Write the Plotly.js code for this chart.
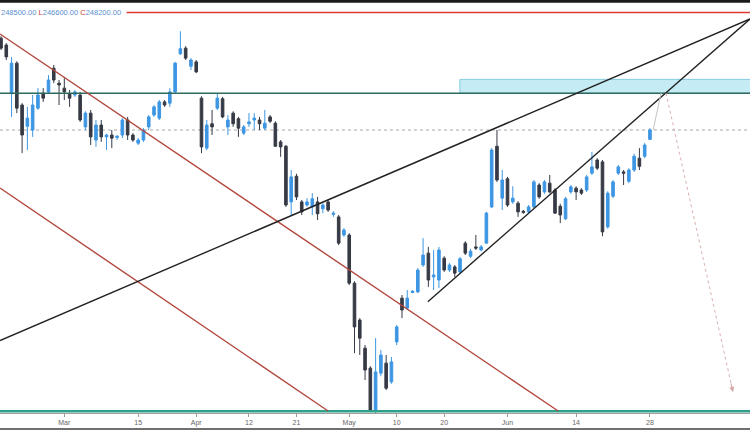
<!DOCTYPE html>
<html><head><meta charset="utf-8">
<script src="https://cdn.plot.ly/plotly-3.0.1.min.js"></script>
<style>html,body{margin:0;padding:0;background:#fff}#chart{width:750px;height:430px}</style>
</head><body><div id="chart"></div>
<script>
// Daily OHLC (candle index 0..123), last candle = Jun 28
const open  = [262900,261800,254100,258900,252200,248800,248200,251700,254100,254300,258100,255700,254900,254000,253800,253800,248700,250900,246600,249000,247100,247400,247000,247400,249800,247400,246100,246600,248700,250600,250100,252700,252500,254300,260400,261300,258400,259100,253300,245300,249200,251700,253200,248700,250900,250000,247700,249200,249800,249800,248500,250300,249300,246300,245600,236700,240800,236700,236200,235900,236700,235600,236700,234700,234300,231400,231400,223700,217800,213300,210100,203400,209300,210900,207900,214300,221300,219700,222200,222300,226600,228500,224700,224200,227700,225800,226300,225500,230100,228000,229500,229000,230100,235900,245600,237300,240400,236700,236500,235200,235100,235900,239400,238300,239700,238600,236000,234000,238300,238900,238600,238600,241300,243400,243100,232700,237600,241300,241500,240000,241800,243700,244000,246700];
const high  = [263200,262100,259900,259200,252500,251900,253800,254900,254900,257000,258600,256200,256500,254600,254600,254300,251200,251400,249800,249800,247600,248200,247400,250100,250300,247700,246900,248500,250600,252200,253000,253000,254900,259100,264000,261600,259700,259400,253600,249800,251400,254100,253500,250600,251200,250300,249000,250900,250900,250300,251400,250600,249600,246600,245800,241800,241200,237000,237300,238100,237500,236500,237000,235200,234600,232500,231700,224000,218100,213800,210400,214900,213000,212200,211900,217000,221800,222600,222600,226100,230900,229500,229000,229500,228000,226900,226600,227900,230400,229200,231400,229800,235100,245300,248200,241800,240700,239200,236800,235400,236200,240200,239700,240200,241000,238900,236400,237500,239400,239200,238900,241000,244700,243700,243400,238400,240200,242600,241800,242100,244400,245300,246100,248500];
const low   = [261000,259400,250300,250900,244500,245000,247100,251400,252700,254100,255700,252200,253000,251900,253500,249500,248200,245800,245500,246300,245000,245300,246600,246900,246600,246300,245800,246300,248200,250300,249800,251900,251900,254100,260200,259400,257800,257300,244500,245000,247400,251400,250100,247400,248700,247100,247400,248700,248200,248200,248200,249300,245500,243900,235900,234600,237000,234600,235900,234600,233800,234900,235100,234300,229800,231100,223400,212500,212200,208200,203100,202800,208800,206600,207600,213800,218100,219400,222100,222100,226300,223100,222600,222900,225500,225500,224700,225200,228200,227700,229000,228800,230000,235700,239900,235400,235900,236400,234300,234800,234900,235700,237200,238000,238100,234800,233300,233800,238000,237000,237800,238300,241000,241800,231200,232400,237300,241000,239400,239700,241500,241800,243700,246600];
const close = [261300,259900,258900,251700,247400,250100,252200,253800,253300,256200,256200,255400,254300,253300,254300,249800,250900,247100,249000,247100,247400,246900,247200,249800,247400,246600,246600,248200,250300,251900,252700,252200,254300,258900,261200,259700,259400,257500,245500,249000,248700,253300,250300,249800,249200,248500,248700,249500,250100,249200,249300,249600,245600,245500,236200,240700,237500,235100,236700,237200,234800,236200,235400,234900,230100,232200,223700,216700,214900,209800,203400,209500,212200,206900,211100,216700,219400,221300,222400,225800,228200,224200,225000,229000,225800,226600,225300,227600,228500,228800,229300,229500,234900,245000,240200,240200,236200,237300,235100,235000,235900,239900,237500,239900,238300,234900,234600,237200,239100,238300,238100,240700,242300,242100,231900,238100,239900,242300,241300,241800,244000,242400,245800,248200];

// x-axis tick labels and the candle index they sit on
const tickLabels = ['Mar','15','Apr','12','21','May','10','20','Jun','14','28'];
const tickIndex  = [12,26,37,47,56,66,75,84,96,109,123];

// Drawn price levels
const levelRed = 267000, levelGreen = 254100, zoneTop = 256300, lastPrice = 248200, levelBottom = 203200;
// Trend / channel lines: [x (candle index), price]
const blackA_x = [-0.19, 141.96], blackA_y = [214520, 265960];
const blackB_x = [80.9, 141.96], blackB_y = [220730, 265960];
const redA_x = [-0.19, 105.6], redA_y = [263560, 203240];
const redB_x = [-0.19, 62.0], redB_y = [238920, 203240];
const projUp_x = [123.6, 125.1], projUp_y = [248200, 254100];
const projDown_x = [126.04, 138.74], projDown_y = [254100, 206280];

const idx = open.map((_, i) => i);
const XR = [-0.19, 141.96];

const traces = [
  {type:'candlestick', x: idx, open, high, low, close,
   increasing:{line:{color:'#3d96e3', width:1}, fillcolor:'#3d96e3'},
   decreasing:{line:{color:'#363a45', width:1}, fillcolor:'#363a45'},
   whiskerwidth:0, hoverinfo:'skip', showlegend:false},
  {type:'scatter', mode:'lines', x:[XR[0], XR[1]], y:[levelGreen, levelGreen], line:{color:'#2f6a5f', width:1.5}, hoverinfo:'skip', showlegend:false},
  {type:'scatter', mode:'lines', x:[XR[0], XR[1]], y:[levelBottom, levelBottom], line:{color:'#30a08b', width:2.5}, hoverinfo:'skip', showlegend:false},
  {type:'scatter', mode:'lines', x:[23.8, XR[1]], y:[levelRed, levelRed], line:{color:'#e03a30', width:1.6}, hoverinfo:'skip', showlegend:false},
  {type:'scatter', mode:'lines', x:redA_x, y:redA_y, line:{color:'#b2463c', width:1.4}, hoverinfo:'skip', showlegend:false},
  {type:'scatter', mode:'lines', x:redB_x, y:redB_y, line:{color:'#b2463c', width:1.4}, hoverinfo:'skip', showlegend:false},
  {type:'scatter', mode:'lines', x:blackA_x, y:blackA_y, line:{color:'#222222', width:1.4}, hoverinfo:'skip', showlegend:false},
  {type:'scatter', mode:'lines', x:blackB_x, y:blackB_y, line:{color:'#222222', width:1.4}, hoverinfo:'skip', showlegend:false},
  {type:'scatter', mode:'lines', x:projUp_x, y:projUp_y, line:{color:'#c4c4c4', width:1}, hoverinfo:'skip', showlegend:false},
  {type:'scatter', mode:'lines', x:projDown_x, y:projDown_y, line:{color:'#dbb0b0', width:1, dash:'dot'}, hoverinfo:'skip', showlegend:false}
];

const layout = {
  width:750, height:430,
  margin:{l:0, r:0, t:3, b:17},
  paper_bgcolor:'#ffffff', plot_bgcolor:'#ffffff',
  showlegend:false,
  font:{family:'Liberation Sans, Arial, sans-serif', size:7, color:'#6a6a6a'},
  xaxis:{range:XR, rangeslider:{visible:false}, showgrid:false, zeroline:false,
         tickmode:'array', tickvals:tickIndex, ticktext:tickLabels,
         ticks:'outside', ticklen:3, tickcolor:'#9a9a9a', showline:true, linecolor:'#a0a0a0', linewidth:1,
         tickfont:{size:7, color:'#666666'}, fixedrange:true},
  yaxis:{range:[202920, 268520], showgrid:false, zeroline:false, showticklabels:false, ticks:'', showline:false, fixedrange:true},
  shapes:[
    {type:'rect', xref:'x', yref:'y', x0:86.97, x1:150, y0:levelGreen, y1:zoneTop, fillcolor:'#c5ebf5', line:{color:'#84cde0', width:1}, layer:'below'},
    {type:'line', xref:'x', yref:'y', x0:XR[0], x1:XR[1], y0:lastPrice, y1:lastPrice, line:{color:'#a8a8a8', width:1, dash:'dot'}, layer:'below'},
    {type:'rect', xref:'paper', yref:'paper', x0:0, x1:1, y0:1.0005, y1:1.02, fillcolor:'#1b1b1b', line:{width:0}},
    {type:'rect', xref:'paper', yref:'paper', x0:0, x1:1, y0:-0.0366, y1:-0.06, fillcolor:'#707070', line:{width:0}}
  ],
  annotations:[
    {xref:'paper', yref:'paper', x:0, y:0.9763, xanchor:'left', yanchor:'middle', xshift:0, showarrow:false, borderpad:0,
     font:{size:7.5, family:'Liberation Sans, Arial, sans-serif', color:'#5a8fd0'},
     text:'248500.00 <span style="color:#c0392b">L</span>246600.00 <span style="color:#c0392b">C</span>248200.00'},
    {xref:'x', yref:'y', x:projDown_x[1], y:projDown_y[1], ax:-2.5, ay:-10, showarrow:true, arrowhead:2, arrowsize:1, arrowwidth:1, arrowcolor:'#d4a8a8', text:''}
  ]
};

Plotly.newPlot('chart', traces, layout, {staticPlot:true, displayModeBar:false});
</script></body></html>
